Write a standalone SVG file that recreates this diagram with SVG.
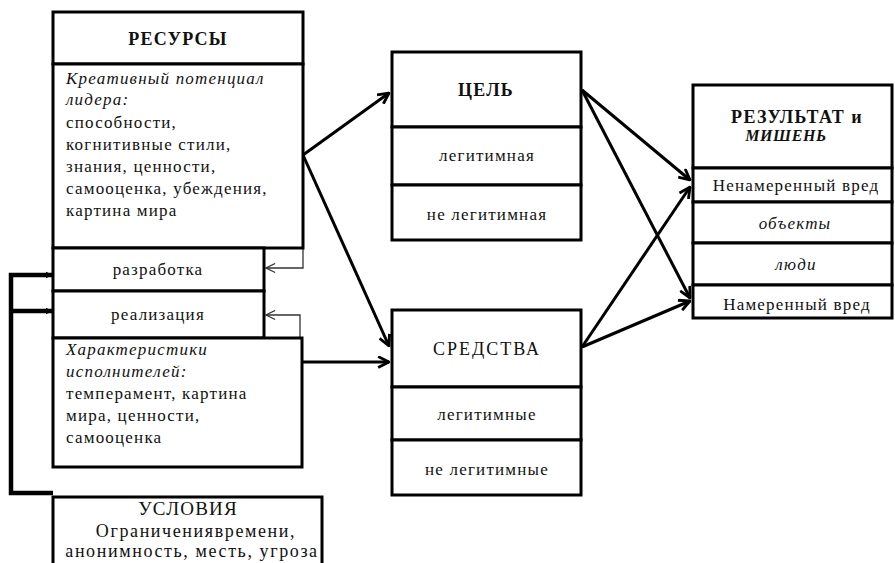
<svg xmlns="http://www.w3.org/2000/svg" width="895" height="563" viewBox="0 0 895 563" font-family="'Liberation Serif', 'Times New Roman', Tinos, 'DejaVu Serif', serif">
<style>
.box{fill:#fff;stroke:#000;stroke-width:3}
.t{font-family:'Liberation Serif','Times New Roman',Tinos,'DejaVu Serif',serif;font-size:17px;fill:#111;letter-spacing:1.2px}
.c{text-anchor:middle}
.i{font-style:italic}
.b{font-weight:bold}
.h{font-size:18px}
.conn{fill:none;stroke:#000;stroke-width:3}
.thin{fill:none;stroke:#333;stroke-width:1.3}
.fb{fill:none;stroke:#000;stroke-width:4.5}
</style>
<defs>
<marker id="ah" viewBox="0 0 12 12" refX="11" refY="6" markerWidth="13" markerHeight="13" markerUnits="userSpaceOnUse" orient="auto">
<path d="M1,1 L11,6 L1,11" fill="none" stroke="#000" stroke-width="2.6"/>
</marker>
<marker id="ahThin" viewBox="0 0 12 12" refX="11" refY="6" markerWidth="11" markerHeight="11" markerUnits="userSpaceOnUse" orient="auto">
<path d="M1,1 L11,6 L1,11" fill="none" stroke="#333" stroke-width="1.3"/>
</marker>
<marker id="ahFill" viewBox="0 0 10 10" refX="9" refY="5" markerWidth="7" markerHeight="9" markerUnits="userSpaceOnUse" orient="auto">
<path d="M0,0 L10,5 L0,10 Z" fill="#000"/>
</marker>
</defs>

<g id="connectors">
<path class="conn" d="M303,155 L389,93" marker-end="url(#ah)"/>
<path class="conn" d="M303,155 L389,346" marker-end="url(#ah)"/>
<path class="conn" d="M302,362 L389,362" marker-end="url(#ah)"/>
<path class="conn" d="M582,90 L690,180" marker-end="url(#ah)"/>
<path class="conn" d="M582,90 L690,298" marker-end="url(#ah)"/>
<path class="conn" d="M582,347 L690,187" marker-end="url(#ah)"/>
<path class="conn" d="M582,347 L690,301" marker-end="url(#ah)"/>
<path class="thin" d="M303,249 V268 H266" marker-end="url(#ahThin)"/>
<path class="thin" d="M300,338 V315 H266" marker-end="url(#ahThin)"/>
<path class="fb" d="M53,493 H11 V275 H52" marker-end="url(#ahFill)"/>
<path class="fb" d="M11,311 H52" marker-end="url(#ahFill)"/>
</g>

<g id="resources">
<rect class="box" x="53" y="12" width="250" height="52"/>
<text class="t c b h" x="178" y="45">РЕСУРСЫ</text>
<rect class="box" x="53" y="64" width="250" height="184"/>
<text class="t i" x="66" y="84">Креативный потенциал</text>
<text class="t i" x="66" y="105">лидера:</text>
<text class="t" x="66" y="128">способности,</text>
<text class="t" x="66" y="150">когнитивные стили,</text>
<text class="t" x="66" y="172">знания, ценности,</text>
<text class="t" x="66" y="194">самооценка, убеждения,</text>
<text class="t" x="66" y="216">картина мира</text>
</g>

<g id="development">
<rect class="box" x="53" y="248" width="211" height="43"/>
<text class="t c" x="158" y="275">разработка</text>
</g>

<g id="realization">
<rect class="box" x="53" y="291" width="211" height="47"/>
<text class="t c" x="158" y="320">реализация</text>
</g>

<g id="executors">
<rect class="box" x="53" y="338" width="249" height="129"/>
<text class="t i" x="66" y="355">Характеристики</text>
<text class="t i" x="66" y="377">исполнителей:</text>
<text class="t" x="66" y="399">темперамент, картина</text>
<text class="t" x="66" y="421">мира, ценности,</text>
<text class="t" x="66" y="443">самооценка</text>
</g>

<g id="conditions">
<rect class="box" x="53" y="497" width="269" height="80"/>
<text class="t c" x="188" y="515" style="font-size:19px">УСЛОВИЯ</text>
<text class="t c" x="196" y="537" style="font-size:18px;letter-spacing:1.6px">Ограничениявремени,</text>
<text class="t c" x="192" y="557" style="font-size:18px;letter-spacing:1.6px">анонимность, месть, угроза</text>
</g>

<g id="goal">
<rect class="box" x="392" y="52" width="189" height="75"/>
<text class="t c b h" x="486" y="96">ЦЕЛЬ</text>
<rect class="box" x="392" y="127" width="189" height="58"/>
<text class="t c" x="487" y="161">легитимная</text>
<rect class="box" x="392" y="185" width="189" height="55"/>
<text class="t c" x="487" y="220">не легитимная</text>
</g>

<g id="means">
<rect class="box" x="392" y="310" width="189" height="77"/>
<text class="t c h" x="487" y="355" style="letter-spacing:2px">СРЕДСТВА</text>
<rect class="box" x="392" y="387" width="189" height="53"/>
<text class="t c" x="487" y="420">легитимные</text>
<rect class="box" x="392" y="440" width="189" height="55"/>
<text class="t c" x="487" y="475">не легитимные</text>
</g>

<g id="result">
<rect class="box" x="693" y="85" width="199" height="83"/>
<text class="t c b" x="797" y="123" style="font-size:18px;letter-spacing:1.4px">РЕЗУЛЬТАТ и</text>
<text class="t c b i" x="786" y="141" style="font-size:16px;letter-spacing:0.6px">МИШЕНЬ</text>
<rect class="box" x="693" y="168" width="199" height="34"/>
<text class="t c" x="796" y="191">Ненамеренный вред</text>
<rect class="box" x="693" y="202" width="199" height="41"/>
<text class="t c i" x="795" y="229">объекты</text>
<rect class="box" x="693" y="243" width="199" height="42"/>
<text class="t c i" x="796" y="270">люди</text>
<rect class="box" x="693" y="285" width="199" height="33"/>
<text class="t c" x="797" y="310">Намеренный вред</text>
</g>
</svg>
